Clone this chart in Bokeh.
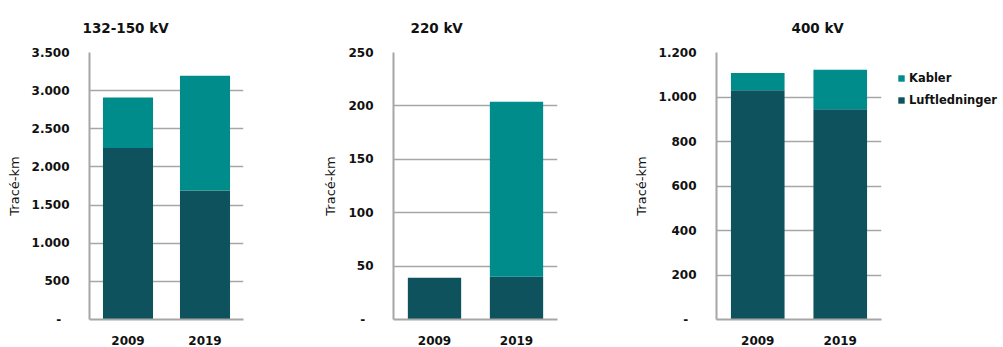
from bokeh.plotting import figure
from bokeh.layouts import row
from bokeh.models import FixedTicker, Legend, LegendItem, Title
from bokeh.embed import file_html
from bokeh.resources import INLINE

years = ["2009", "2019"]
series = ["Luftledninger", "Kabler"]

titles = ["132-150 kV", "220 kV", "400 kV"]
luft = [[2247, 1690], [39, 40], [1030, 945]]
kabler = [[663, 1505], [0, 164], [78, 178]]
yticks = [[0, 500, 1000, 1500, 2000, 2500, 3000, 3500],
          [0, 50, 100, 150, 200, 250],
          [0, 200, 400, 600, 800, 1000, 1200]]
ytick_labels = [["-\u00a0\u00a0", "500", "1.000", "1.500", "2.000", "2.500", "3.000", "3.500"],
                ["-\u00a0\u00a0", "50", "100", "150", "200", "250"],
                ["-\u00a0\u00a0", "200", "400", "600", "800", "1.000", "1.200"]]

C_LUFT = "#0D525D"
C_KAB = "#008C8A"
FONT = "DejaVu Sans"

widths = [320, 310, 260]
borders_l = [89, 69, 86]
borders_r = [77, 73, 9]
title_off = [-7, 17, 75]

figs = []
for i in range(3):
    p = figure(x_range=years, y_range=(0, yticks[i][-1]), width=widths[i], height=347,
               output_backend="svg", toolbar_location=None,
               min_border_left=borders_l[i], min_border_right=borders_r[i],
               min_border_top=51, min_border_bottom=27)
    p.title = Title(text=titles[i], align="left", offset=title_off[i],
                    text_font=FONT, text_font_size="13.5px", text_font_style="bold",
                    text_color="#111111", standoff=34)
    data = dict(x=years, Luftledninger=luft[i], Kabler=kabler[i])
    p.vbar_stack(series, x="x", width=0.65, color=[C_LUFT, C_KAB], source=data,
                 line_color=None)
    p.outline_line_color = None
    p.xgrid.grid_line_color = None
    p.ygrid.grid_line_color = "#A6A6A6"
    p.ygrid.grid_line_width = 1.5
    p.yaxis.ticker = FixedTicker(ticks=yticks[i])
    p.yaxis.major_label_overrides = {t: l for t, l in zip(yticks[i], ytick_labels[i])}
    for ax in (p.xaxis, p.yaxis):
        ax.axis_line_color = "#A6A6A6"
        ax.axis_line_width = 2
        ax.major_tick_line_color = None
        ax.minor_tick_line_color = None
        ax.major_label_text_font = FONT
        ax.major_label_text_font_size = "12px"
        ax.major_label_text_font_style = "bold"
        ax.major_label_text_color = "#111111"
    p.yaxis.major_label_standoff = 14
    p.xaxis.major_label_standoff = 10
    p.yaxis.axis_label = "Tracé-km"
    p.yaxis.axis_label_text_font = FONT
    p.yaxis.axis_label_text_font_size = "13px"
    p.yaxis.axis_label_text_font_style = "normal"
    p.yaxis.axis_label_text_color = "#111111"
    p.yaxis.axis_label_standoff = 7
    figs.append(p)

# legend panel
lg = figure(width=113, height=347, x_range=(0, 1), y_range=(0, 1),
            x_axis_type=None, y_axis_type=None, output_backend="svg",
            toolbar_location=None, min_border_left=0, min_border_right=0,
            min_border_top=51, min_border_bottom=26)
lg.outline_line_color = None
lg.xgrid.grid_line_color = None
lg.ygrid.grid_line_color = None
lg.background_fill_alpha = 0
r_kab = lg.vbar(x=[5], top=[5], bottom=[4], width=0.5, color=C_KAB, line_color=None)
r_luft = lg.vbar(x=[5], top=[5], bottom=[4], width=0.5, color=C_LUFT, line_color=None)
legend = Legend(items=[LegendItem(label="Kabler", renderers=[r_kab]),
                       LegendItem(label="Luftledninger", renderers=[r_luft])],
                location=(7, 211), border_line_color=None,
                background_fill_alpha=0, label_text_font=FONT,
                label_text_font_size="11.5px", label_text_font_style="bold",
                label_text_color="#111111", glyph_width=8, glyph_height=8,
                label_standoff=4, spacing=6, padding=0, margin=0,
                label_height=16)
lg.add_layout(legend)
figs.append(lg)

layout = row(*figs, spacing=0)
open("out.html", "w").write(file_html(layout, INLINE))
